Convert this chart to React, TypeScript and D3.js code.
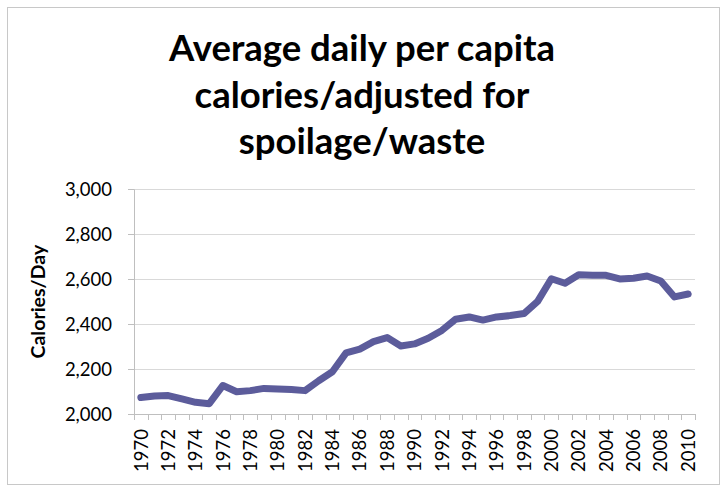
import React from "react";
import * as d3 from "d3";

const years: number[] = [
  1970, 1971, 1972, 1973, 1974, 1975, 1976, 1977, 1978, 1979,
  1980, 1981, 1982, 1983, 1984, 1985, 1986, 1987, 1988, 1989,
  1990, 1991, 1992, 1993, 1994, 1995, 1996, 1997, 1998, 1999,
  2000, 2001, 2002, 2003, 2004, 2005, 2006, 2007, 2008, 2009, 2010,
];
const calories: number[] = [
  2073, 2080, 2082, 2067, 2052, 2046, 2127, 2099, 2104, 2114,
  2111, 2109, 2104, 2148, 2188, 2272, 2289, 2322, 2340, 2303,
  2312, 2337, 2372, 2422, 2432, 2418, 2432, 2438, 2447, 2501,
  2602, 2582, 2620, 2618, 2617, 2601, 2604, 2614, 2592, 2521, 2534,
];
const yTicks: number[] = [2000, 2200, 2400, 2600, 2800, 3000];
const titleLines: string[] = [
  "Average daily per capita",
  "calories/adjusted for",
  "spoilage/waste",
];
const yAxisTitle = "Calories/Day";

const W = 727;
const H = 490;
const plot = { left: 134, right: 695, top: 189.3, bottom: 414 };

export default function App() {
  const x = d3
    .scaleBand<string>()
    .domain(years.map(String))
    .range([plot.left, plot.right])
    .padding(0);
  const y = d3.scaleLinear().domain([2000, 3000]).range([plot.bottom, plot.top]);
  const fmt = d3.format(",");
  const line = d3
    .line<number>()
    .x((_, i) => (x(String(years[i])) as number) + x.bandwidth() / 2)
    .y((d) => y(d));

  const boundaries = d3.range(years.length + 1).map((i) => plot.left + i * x.step());

  return (
    <svg
      width={W}
      height={H}
      style={{ position: "absolute", left: 0, top: 0, background: "#fff" }}
    >
      <rect x={0} y={0} width={W} height={H} fill="#fff" />
      <rect x={7.5} y={7.5} width={712} height={477} fill="#fff" stroke="#c8c8c8" strokeWidth={1} />

      {titleLines.map((t, i) => (
        <text
          key={i}
          x={362}
          y={61 + i * 46.5}
          textAnchor="middle"
          fontFamily="Lato"
          fontWeight="bold"
          fontSize={36.5}
          fill="#000"
        >
          {t}
        </text>
      ))}

      {yTicks.map((v) => (
        <line
          key={"g" + v}
          x1={plot.left}
          x2={plot.right}
          y1={Math.round(y(v)) + 0.5}
          y2={Math.round(y(v)) + 0.5}
          stroke={v === 2000 ? "#bfbfbf" : "#d9d9d9"}
          strokeWidth={1}
        />
      ))}
      {yTicks.map((v) => (
        <line
          key={"t" + v}
          x1={plot.left - 6}
          x2={plot.left}
          y1={Math.round(y(v)) + 0.5}
          y2={Math.round(y(v)) + 0.5}
          stroke="#bfbfbf"
        />
      ))}
      <line
        x1={plot.left + 0.5}
        x2={plot.left + 0.5}
        y1={plot.top}
        y2={plot.bottom}
        stroke="#bfbfbf"
      />
      {boundaries.map((bx, i) => (
        <line
          key={"xt" + i}
          x1={Math.round(bx) + 0.5}
          x2={Math.round(bx) + 0.5}
          y1={plot.bottom}
          y2={plot.bottom + 6}
          stroke="#bfbfbf"
        />
      ))}

      {yTicks.map((v) => (
        <text
          key={"l" + v}
          x={112}
          y={y(v)}
          dy="0.36em"
          textAnchor="end"
          fontFamily="Lato"
          fontSize={18.5}
          fill="#000"
        >
          {fmt(v)}
        </text>
      ))}

      {years
        .filter((yr) => yr % 2 === 0)
        .map((yr) => {
          const cx = (x(String(yr)) as number) + x.bandwidth() / 2;
          return (
            <text
              key={"x" + yr}
              transform={`translate(${cx},${429}) rotate(-90)`}
              dy="0.36em"
              textAnchor="end"
              fontFamily="Lato"
              fontSize={18.5}
              fill="#000"
            >
              {yr}
            </text>
          );
        })}

      <text
        transform={`translate(38,${(plot.top + plot.bottom) / 2}) rotate(-90)`}
        dy="0.36em"
        textAnchor="middle"
        fontFamily="Lato"
        fontWeight="bold"
        fontSize={19.5}
        fill="#000"
      >
        {yAxisTitle}
      </text>

      <path
        d={line(calories) || ""}
        fill="none"
        stroke="#5c5c9b"
        strokeWidth={7}
        strokeLinejoin="round"
        strokeLinecap="round"
      />
    </svg>
  );
}
